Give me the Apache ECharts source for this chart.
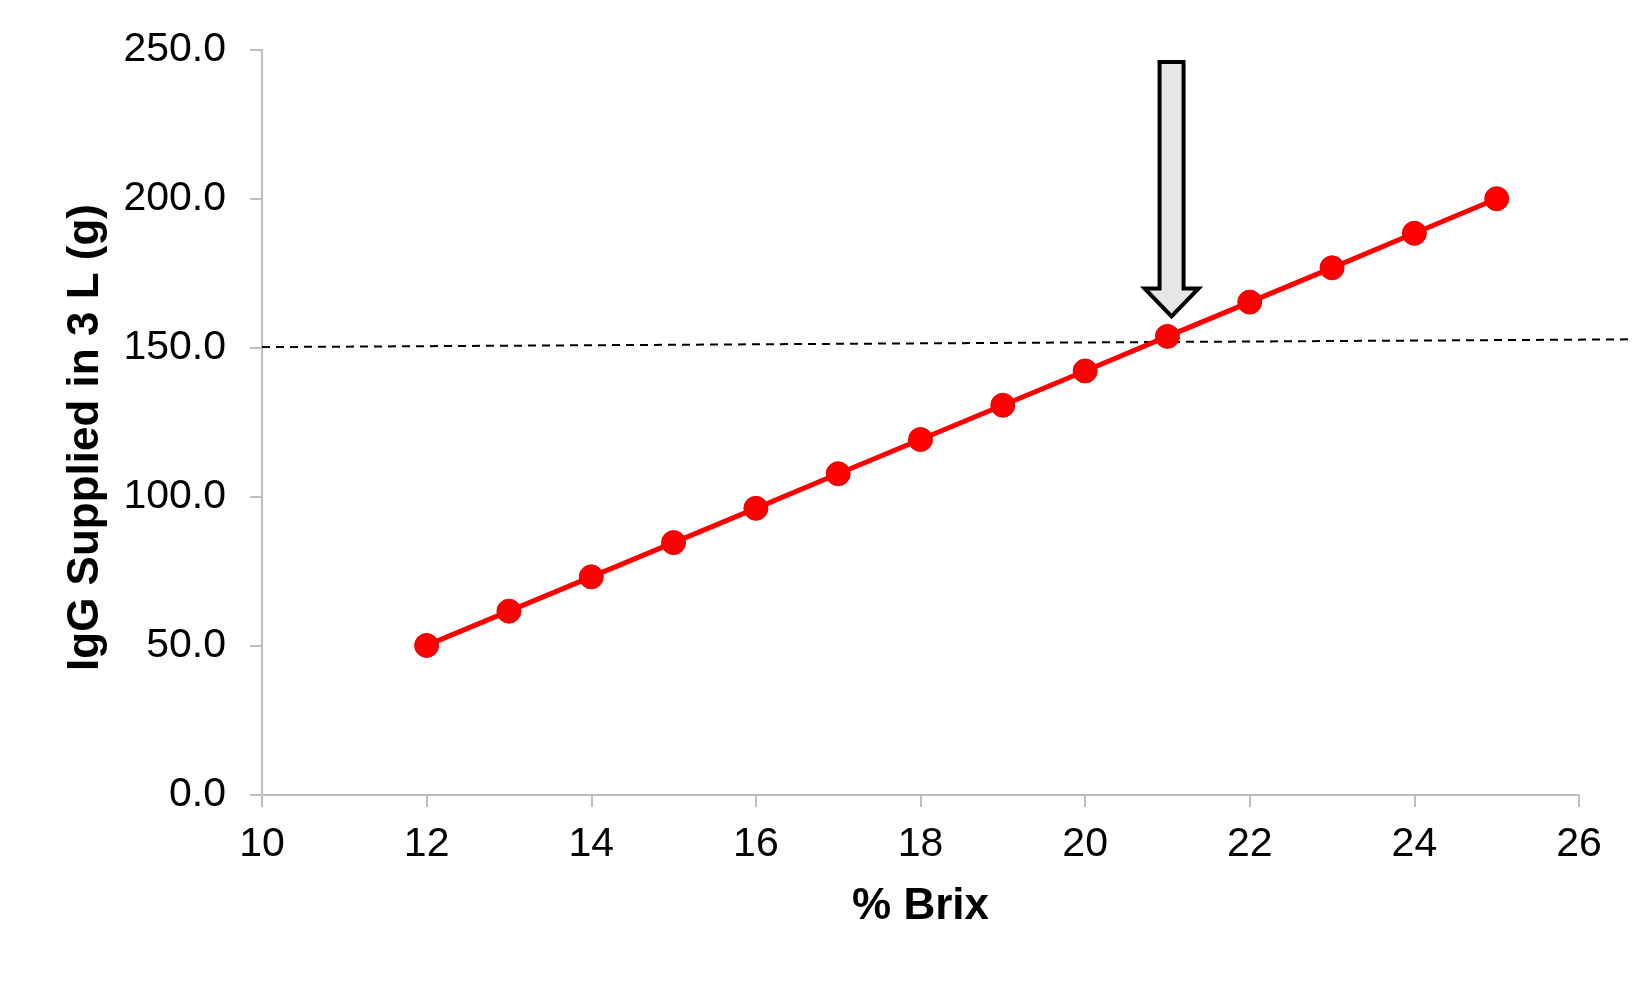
<!DOCTYPE html>
<html><head><meta charset="utf-8">
<script src="https://cdn.jsdelivr.net/npm/echarts@6/dist/echarts.min.js"></script>
<style>html,body{margin:0;padding:0;background:#fff}#c{width:1650px;height:990px}</style>
</head><body><div id="c"></div>
<script>
const brix = [12,13,14,15,16,17,18,19,20,21,22,23,24,25];
const igg = [50.2,61.7,73.2,84.7,96.2,107.8,119.3,130.8,142.3,153.9,165.4,176.9,188.5,200.1];
const thresholdX = [10,26.6];
const thresholdY = [150.3,152.9];
const arrowX = 21.05, arrowTipY = 160.6, arrowTopY = 246;

const chart = echarts.init(document.getElementById('c'));
const FONT = 'Liberation Sans, Arial, sans-serif';
chart.setOption({
  animation:false,
  grid:[
    {left:262,top:50,right:71,bottom:195,containLabel:false},
    {left:262,top:50,right:22,bottom:195,containLabel:false}
  ],
  xAxis:[
    {type:'value',gridIndex:0,min:10,max:26,interval:2,
    name:'% Brix',nameLocation:'middle',nameGap:90,
    nameTextStyle:{fontFamily:FONT,fontSize:44,fontWeight:'bold',color:'#000'},
    axisLine:{lineStyle:{color:'#bfbfbf',width:2}},
    axisTick:{show:true,length:12,lineStyle:{color:'#bfbfbf',width:2}},
    axisLabel:{fontFamily:FONT,fontSize:41,color:'#000',margin:29},
    splitLine:{show:false}},
    {type:'value',gridIndex:1,min:10,max:26.6,show:false}
  ],
  yAxis:[
    {type:'value',gridIndex:0,min:0,max:250,interval:50,
    name:'IgG Supplied in 3 L (g)',nameLocation:'middle',nameGap:154,nameRotate:90,
    nameTextStyle:{fontFamily:FONT,fontSize:44,fontWeight:'bold',color:'#000',padding:[0,0,0,-30]},
    axisLine:{show:true,lineStyle:{color:'#bfbfbf',width:2}},
    axisTick:{show:true,length:12,lineStyle:{color:'#bfbfbf',width:2}},
    axisLabel:{fontFamily:FONT,fontSize:41,color:'#000',margin:36,formatter:v=>v.toFixed(1)},
    splitLine:{show:false}},
    {type:'value',gridIndex:1,min:0,max:250,show:false}
  ],
  series:[
    {type:'line',xAxisIndex:1,yAxisIndex:1,data:thresholdX.map((x,i)=>[x,thresholdY[i]]),symbol:'none',
     lineStyle:{color:'#000',width:2,type:[8,6]},z:1},
    {type:'line',xAxisIndex:0,yAxisIndex:0,data:brix.map((x,i)=>[x,igg[i]]),symbol:'circle',symbolSize:24,
     lineStyle:{color:'#ff0000',width:5},itemStyle:{color:'#ff0000',borderColor:'#e60000',borderWidth:1},z:3}
  ]
});
const tipPx = chart.convertToPixel({gridIndex:0},[arrowX,arrowTipY]);
const topPx = chart.convertToPixel({gridIndex:0},[arrowX,arrowTopY]);
const cx = tipPx[0], ty = tipPx[1], tp = topPx[1];
const sw = 12, hw = 27, hh = 28;
chart.setOption({graphic:[{type:'polygon',z:10,
  shape:{points:[[cx-sw,tp],[cx+sw,tp],[cx+sw,ty-hh],[cx+hw,ty-hh],[cx,ty],[cx-hw,ty-hh],[cx-sw,ty-hh]]},
  style:{fill:'#e6e6e6',stroke:'#000',lineWidth:4,lineJoin:'miter'}}]});
</script></body></html>
